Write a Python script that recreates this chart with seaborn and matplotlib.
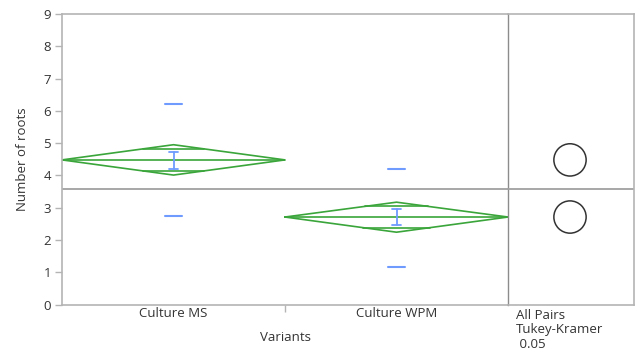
import matplotlib
matplotlib.use("Agg")
import matplotlib.pyplot as plt
from matplotlib.patches import Circle
import seaborn as sns

groups = ["Culture MS", "Culture WPM"]
means = [4.48, 2.71]
ci_lower = [4.01, 2.24]
ci_upper = [4.95, 3.17]
overlap_lower = [4.14, 2.38]
overlap_upper = [4.82, 3.04]
se_lower = [4.20, 2.46]
se_upper = [4.74, 2.95]
sd_lower = [2.74, 1.16]
sd_upper = [6.20, 4.19]
grand_mean = 3.58
circle_radius = [0.5, 0.5]
y_ticks = list(range(0, 10))

GREEN = "#3aa53a"
BLUE = "#6f9bff"
FRAME = "#b4b4b4"
TEXT = "#333333"
FS = 9.5

sns.set_theme(style="white")
plt.rcParams["font.family"] = ["Open Sans", "DejaVu Sans"]

W, H, DPI = 636, 356, 100
fig = plt.figure(figsize=(W / DPI, H / DPI), dpi=DPI)
left, right, mid = 62 / W, 634 / W, 508 / W
bottom, top = 1 - 304.5 / H, 1 - 14 / H
ax = fig.add_axes([left, bottom, mid - left, top - bottom])
axc = fig.add_axes([mid, bottom, right - mid, top - bottom])
axc.patch.set_alpha(0)

half = 0.5
for i, g in enumerate(groups):
    m = means[i]
    # diamond
    xs = [i - half, i, i + half, i, i - half]
    ys = [m, ci_upper[i], m, ci_lower[i], m]
    ax.plot(xs, ys, color=GREEN, lw=1.2, solid_joinstyle="miter")
    ax.plot([i - half, i + half], [m, m], color=GREEN, lw=1.2)
    # overlap marks as chords of the diamond
    for ov, edge in ((overlap_upper[i], ci_upper[i]), (overlap_lower[i], ci_lower[i])):
        frac = (ov - m) / (edge - m)
        w = half * (1 - frac)
        ax.plot([i - w, i + w], [ov, ov], color=GREEN, lw=1.2)
    # std dev marks
    ax.plot([i - 0.04, i + 0.04], [sd_upper[i]] * 2, color=BLUE, lw=1.5)
    ax.plot([i - 0.04, i + 0.04], [sd_lower[i]] * 2, color=BLUE, lw=1.5)
    # std error bar
    ax.plot([i, i], [se_lower[i], se_upper[i]], color=BLUE, lw=1.3)
    for yv in (se_lower[i], se_upper[i]):
        ax.plot([i - 0.018, i + 0.018], [yv, yv], color=BLUE, lw=1.3)

ax.axhline(grand_mean, color="#a0a0a0", lw=1.3)
ax.set_xlim(-0.5, 1.5)
ax.set_ylim(0, 9)
ax.set_yticks(y_ticks)
ax.set_yticklabels([str(t) for t in y_ticks], fontsize=FS, color=TEXT)
ax.set_xticks(range(len(groups)))
ax.set_xticklabels(groups, fontsize=FS, color=TEXT)
ax.set_xticks([0.5], minor=True)
ax.tick_params(axis="x", which="major", length=0, pad=2)
ax.tick_params(axis="x", which="minor", length=5, color=FRAME, width=1, direction="out", bottom=True)
ax.tick_params(axis="y", length=5, color=FRAME, width=1, direction="out", left=True, pad=3)
ax.set_ylabel("Number of roots", fontsize=FS, color=TEXT, labelpad=10)
ax.set_xlabel("Variants", fontsize=FS, color=TEXT, labelpad=8)
for name, sp in ax.spines.items():
    sp.set_color(FRAME)
    sp.set_linewidth(1.2)
ax.spines["right"].set_color("#8c8c8c")
ax.spines["right"].set_linewidth(1.0)
ax.spines["right"].set_zorder(5)

# comparison circles panel, equal scaling in x and y
px_per_unit = (top - bottom) * H / 9
panel_w_units = (right - mid) * W / px_per_unit
axc.set_xlim(0, panel_w_units)
axc.set_ylim(0, 9)
cx = 62 / px_per_unit
for m, r in zip(means, circle_radius):
    axc.add_patch(Circle((cx, m), r, fill=False, ec="#333333", lw=1.1))
axc.axhline(grand_mean, color="#a0a0a0", lw=1.3)
axc.set_xticks([])
axc.set_yticks([])
for name, sp in axc.spines.items():
    sp.set_color(FRAME)
    sp.set_linewidth(1.2)
axc.spines["left"].set_visible(False)
axc.text(0.06, -0.015, "All Pairs\nTukey-Kramer\n 0.05", transform=axc.transAxes,
         ha="left", va="top", fontsize=FS, color=TEXT, linespacing=1.15)

fig.savefig("out.png", dpi=DPI)
